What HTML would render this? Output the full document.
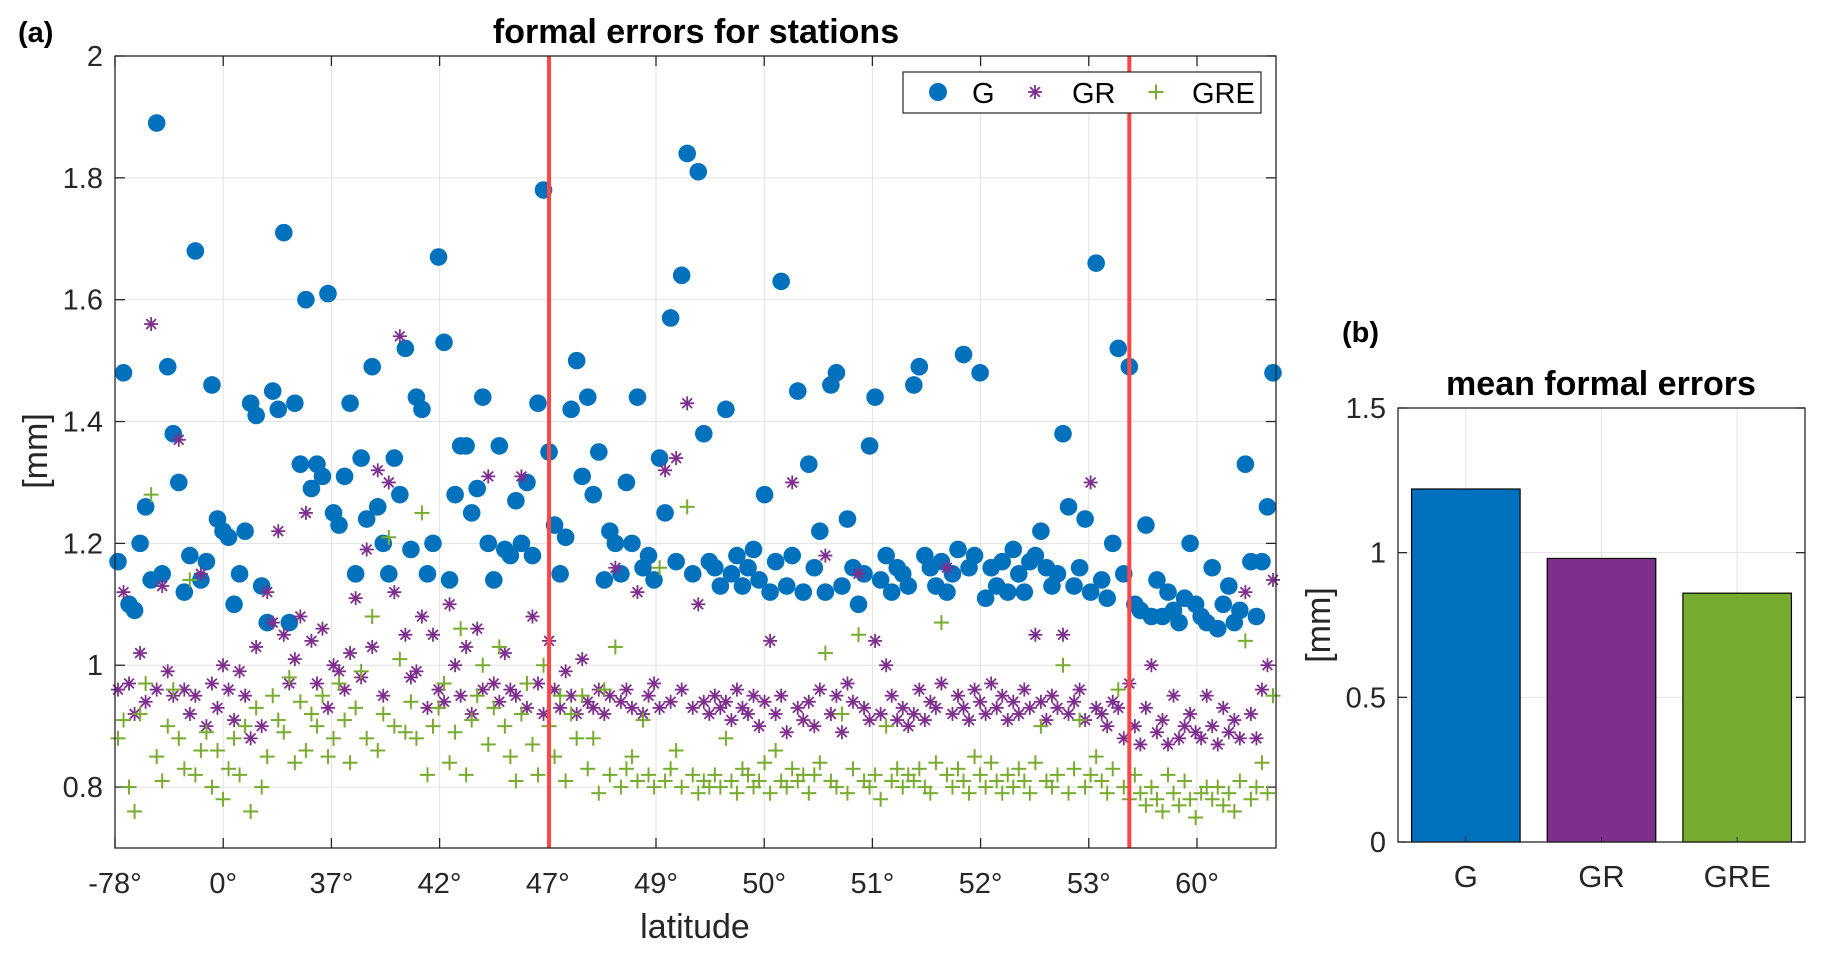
<!DOCTYPE html>
<html><head><meta charset="utf-8"><style>
body{margin:0;background:#fff}
svg{display:block;font-family:"Liberation Sans",Arial,sans-serif}
</style></head><body>
<svg id="svg" width="1824" height="958" viewBox="0 0 1824 958">
<g id="g1"></g>
</svg>
<script>
const xTickLabels=["-78°","0°","37°","42°","47°","49°","50°","51°","52°","53°","60°"];
const yTicks1=[0.8,1,1.2,1.4,1.6,1.8,2];
const seriesG=[1.17,1.48,1.10,1.09,1.20,1.26,1.14,1.89,1.15,1.49,1.38,1.30,1.12,1.18,1.68,1.14,1.17,1.46,
1.24,1.22,1.21,1.10,1.15,1.22,1.43,1.41,1.13,1.07,1.45,1.42,1.71,1.07,1.43,1.33,1.60,1.29,
1.33,1.31,1.61,1.25,1.23,1.31,1.43,1.15,1.34,1.24,1.49,1.26,1.20,1.15,1.34,1.28,1.52,1.19,
1.44,1.42,1.15,1.20,1.67,1.53,1.14,1.28,1.36,1.36,1.25,1.29,1.44,1.20,1.14,1.36,1.19,1.18,
1.27,1.20,1.30,1.18,1.43,1.78,1.35,1.23,1.15,1.21,1.42,1.50,1.31,1.44,1.28,1.35,1.14,1.22,
1.20,1.15,1.30,1.20,1.44,1.16,1.18,1.14,1.34,1.25,1.57,1.17,1.64,1.84,1.15,1.81,1.38,1.17,
1.16,1.13,1.42,1.15,1.18,1.13,1.16,1.19,1.14,1.28,1.12,1.17,1.63,1.13,1.18,1.45,1.12,1.33,
1.16,1.22,1.12,1.46,1.48,1.13,1.24,1.16,1.10,1.15,1.36,1.44,1.14,1.18,1.12,1.16,1.15,1.13,
1.46,1.49,1.18,1.16,1.13,1.17,1.12,1.15,1.19,1.51,1.16,1.18,1.48,1.11,1.16,1.13,1.17,1.12,
1.19,1.15,1.12,1.17,1.18,1.22,1.16,1.13,1.15,1.38,1.26,1.13,1.16,1.24,1.12,1.66,1.14,1.11,
1.20,1.52,1.15,1.49,1.10,1.09,1.23,1.08,1.14,1.08,1.12,1.09,1.07,1.11,1.20,1.10,1.08,1.07,
1.16,1.06,1.10,1.13,1.07,1.09,1.33,1.17,1.08,1.17,1.26,1.48];
const seriesGR=[0.96,1.12,0.97,0.92,1.02,0.94,1.56,0.96,1.13,0.99,0.95,1.37,0.96,0.92,0.95,1.15,0.90,0.97,
0.93,1.00,0.96,0.91,0.99,0.95,0.88,1.03,0.90,1.12,1.07,1.22,1.05,0.97,1.01,1.08,1.25,1.04,
0.97,1.06,0.93,1.00,0.99,0.96,1.02,1.11,0.98,1.19,1.03,1.32,0.95,1.30,1.12,1.54,1.05,0.98,
0.99,1.08,0.93,1.05,0.96,0.94,1.10,1.00,0.95,1.03,0.92,1.06,0.96,1.31,0.97,0.94,1.02,0.96,
0.95,1.31,0.93,1.08,0.97,0.92,1.04,0.96,0.93,0.99,0.95,0.92,1.01,0.94,0.93,0.96,0.92,0.95,
1.16,0.94,0.96,0.93,1.12,0.92,0.95,0.97,0.93,1.32,0.94,1.34,0.96,1.43,0.93,1.10,0.94,0.92,
0.95,0.93,0.94,0.91,0.96,0.93,0.92,0.95,0.90,0.94,1.04,0.92,0.95,0.89,1.30,0.93,0.91,0.94,
0.90,0.96,1.18,0.92,0.95,0.89,0.97,0.94,1.15,0.93,0.91,1.04,0.92,1.00,0.95,0.91,0.93,0.90,
0.92,0.96,0.91,0.94,0.93,0.97,1.16,0.92,0.95,0.93,0.91,0.96,0.94,0.92,0.97,0.93,0.95,0.91,
0.94,0.92,0.96,0.93,1.05,0.94,0.91,0.95,0.93,1.05,0.92,0.94,0.96,0.91,1.30,0.93,0.92,0.90,
0.94,0.93,0.88,0.97,0.90,0.87,0.93,1.00,0.89,0.91,0.87,0.95,0.88,0.90,0.92,0.89,0.88,0.95,
0.90,0.87,0.93,0.89,0.91,0.88,1.12,0.92,0.88,0.96,1.00,1.14];
const seriesGRE=[0.88,0.91,0.80,0.76,0.92,0.97,1.28,0.85,0.81,0.90,0.96,0.88,0.83,1.14,0.82,0.86,0.89,0.80,
0.86,0.78,0.83,0.88,0.82,0.90,0.76,0.93,0.80,0.85,0.95,0.91,0.89,0.98,0.84,0.94,0.86,0.92,
0.90,0.95,0.85,0.88,0.97,0.91,0.84,0.93,0.99,0.88,1.08,0.86,0.92,1.21,0.90,1.01,0.89,0.94,
0.88,1.25,0.82,0.90,0.93,0.97,0.84,0.89,1.06,0.82,0.91,0.95,1.00,0.87,0.93,1.03,0.90,0.85,
0.81,0.92,0.97,0.87,0.82,1.00,0.90,0.85,0.95,0.81,0.92,0.88,0.95,0.83,0.88,0.79,0.96,0.82,
1.03,0.80,0.83,0.85,0.81,0.91,0.82,0.80,1.16,0.81,0.83,0.86,0.80,1.26,0.82,0.79,0.81,0.80,
0.82,0.80,0.88,0.81,0.79,0.83,0.82,0.80,0.81,0.84,0.79,0.86,0.81,0.80,0.83,0.81,0.82,0.79,
0.82,0.84,1.02,0.81,0.80,0.92,0.79,0.83,1.05,0.81,0.80,0.82,0.78,0.90,0.81,0.83,0.80,0.82,
0.81,0.83,0.80,0.79,0.84,1.07,0.82,0.80,0.83,0.81,0.79,0.85,0.82,0.80,0.84,0.81,0.79,0.82,
0.80,0.83,0.81,0.79,0.84,0.90,0.81,0.80,0.82,1.00,0.79,0.83,0.91,0.80,0.82,0.85,0.81,0.79,
0.83,0.96,0.80,0.78,0.82,0.79,0.77,0.80,0.78,0.76,0.82,0.79,0.77,0.81,0.78,0.75,0.79,0.80,
0.78,0.80,0.77,0.79,0.76,0.81,1.04,0.78,0.80,0.84,0.79,0.95];
const redLineIdx=[78,183];
const barCats=["G","GR","GRE"];
const barVals=[1.22,0.98,0.86];
const yTicks2=[0,0.5,1,1.5];

const NS="http://www.w3.org/2000/svg";
const root=document.getElementById('g1');
function mk(tag,attrs,parent){const e=document.createElementNS(NS,tag);for(const k in attrs)e.setAttribute(k,attrs[k]);(parent||root).appendChild(e);return e;}
function txt(s,attrs,parent){const e=mk('text',attrs,parent);e.textContent=s;return e;}

// chart a
const L=115,R=1276,T=56,B=848;
const nPts=seriesG.length;
const xS=i=>L+3+i*(R-L-6)/(nPts-1);
const yS=v=>B-(v-0.7)/(2-0.7)*(B-T);
const xt=k=>L+k*108.2;
const ga=mk('g',{});


xTickLabels.forEach((s,k)=>{const x=xt(k);
 if(k>0){const gl=mk('line',{x1:x,x2:x,y1:T,y2:B,stroke:'#e2e2e2','stroke-width':1},ga);}
 mk('line',{x1:x,x2:x,y1:B,y2:B-10,stroke:'#262626','stroke-width':1.3},ga);
 mk('line',{x1:x,x2:x,y1:T,y2:T+10,stroke:'#262626','stroke-width':1.3},ga);
 const t=txt(s,{x:x,y:B+45,'text-anchor':'middle','font-size':29,fill:'#262626'},ga);
 
});
yTicks1.forEach(v=>{const y=yS(v);
 const gl=mk('line',{x1:L,x2:R,y1:y,y2:y,stroke:'#e2e2e2','stroke-width':1},ga);
 mk('line',{x1:L,x2:L+10,y1:y,y2:y,stroke:'#262626','stroke-width':1.3},ga);
 mk('line',{x1:R,x2:R-10,y1:y,y2:y,stroke:'#262626','stroke-width':1.3},ga);
 const t=txt(String(v),{x:L-12,y:y+10,'text-anchor':'end','font-size':29,fill:'#262626'},ga);
 
});
const gG=mk('g',{fill:'#0072BD'},ga);

seriesG.forEach((v,i)=>{const c=mk('circle',{cx:xS(i),cy:yS(v),r:8.8},gG);});
function star(x,y,p,col){const s=7;const g=mk('g',{stroke:col,'stroke-width':1.8},p);
 mk('line',{x1:x-s,x2:x+s,y1:y,y2:y},g);mk('line',{x1:x,x2:x,y1:y-s,y2:y+s},g);
 mk('line',{x1:x-s*.7,x2:x+s*.7,y1:y-s*.7,y2:y+s*.7},g);mk('line',{x1:x-s*.7,x2:x+s*.7,y1:y+s*.7,y2:y-s*.7},g);return g;}
function plus(x,y,p,col){const s=7.5;const g=mk('g',{stroke:col,'stroke-width':2},p);
 mk('line',{x1:x-s,x2:x+s,y1:y,y2:y},g);mk('line',{x1:x,x2:x,y1:y-s,y2:y+s},g);return g;}
const gGR=mk('g',{},ga);
seriesGR.forEach((v,i)=>{const m=star(xS(i),yS(v),gGR,'#7E2F8E');});
const gGRE=mk('g',{},ga);
seriesGRE.forEach((v,i)=>{const m=plus(xS(i),yS(v),gGRE,'#77AC30');});
redLineIdx.forEach(i=>{const l=mk('line',{x1:xS(i),x2:xS(i),y1:T,y2:B,stroke:'#FF4545','stroke-width':4},ga);});
mk('rect',{x:L,y:T,width:R-L,height:B-T,fill:'none',stroke:'#262626','stroke-width':1.3},ga);
// legend
const lg=mk('g',{},ga);
mk('rect',{x:903,y:72,width:358,height:41,fill:'#fff',stroke:'#262626','stroke-width':1.2},lg);
mk('circle',{cx:938,cy:92,r:9,fill:'#0072BD'},lg);
txt('G',{x:972,y:103,'font-size':29,fill:'#000'},lg);
star(1035,92,lg,'#7E2F8E');
txt('GR',{x:1072,y:103,'font-size':29,fill:'#000'},lg);
plus(1156,92,lg,'#77AC30');
txt('GRE',{x:1192,y:103,'font-size':29,fill:'#000'},lg);
let t;
t=txt('formal errors for stations',{x:696,y:43,'text-anchor':'middle','font-size':34,'font-weight':'bold',fill:'#000'});
t=txt('(a)',{x:18,y:42,'font-size':29,'font-weight':'bold',fill:'#000'});
t=txt('latitude',{x:695,y:938,'text-anchor':'middle','font-size':34,fill:'#262626'});
t=txt('[mm]',{x:0,y:0,'text-anchor':'middle','font-size':34,fill:'#262626',transform:'translate(47,451) rotate(-90)'});

// chart b
const L2=1398,R2=1805,T2=408,B2=842;
const xb=i=>L2+(i+0.5)*(R2-L2)/barCats.length;
const yb=v=>B2-v/1.5*(B2-T2);
const gb=mk('g',{});
yTicks2.forEach(v=>{const y=yb(v);
 if(v>0){const gl=mk('line',{x1:L2,x2:R2,y1:y,y2:y,stroke:'#e2e2e2','stroke-width':1},gb);}
 mk('line',{x1:L2,x2:L2+9,y1:y,y2:y,stroke:'#262626','stroke-width':1.3},gb);
 mk('line',{x1:R2,x2:R2-9,y1:y,y2:y,stroke:'#262626','stroke-width':1.3},gb);
 const tt=txt(String(v),{x:L2-12,y:y+10,'text-anchor':'end','font-size':29,fill:'#262626'},gb);
});
barCats.forEach((c,i)=>{const x=xb(i);const gl=mk('line',{x1:x,x2:x,y1:T2,y2:B2,stroke:'#e2e2e2','stroke-width':1},gb);});
const cols=['#0072BD','#7E2F8E','#77AC30'];
barVals.forEach((v,i)=>{const w=0.8*(R2-L2)/barCats.length;
 const r=mk('rect',{x:xb(i)-w/2,y:yb(v),width:w,height:B2-yb(v),fill:cols[i],stroke:'#000','stroke-width':1.2},gb);
 
 mk('line',{x1:xb(i),x2:xb(i),y1:B2,y2:B2-5,stroke:'#262626'},gb);
 const tt=txt(barCats[i],{x:xb(i),y:B2+45,'text-anchor':'middle','font-size':31,fill:'#262626'},gb);
});
mk('rect',{x:L2,y:T2,width:R2-L2,height:B2-T2,fill:'none',stroke:'#262626','stroke-width':1.3},gb);
t=txt('mean formal errors',{x:1601,y:395,'text-anchor':'middle','font-size':34,'font-weight':'bold',fill:'#000'});
t=txt('(b)',{x:1342,y:342,'font-size':29,'font-weight':'bold',fill:'#000'});
t=txt('[mm]',{x:0,y:0,'text-anchor':'middle','font-size':34,fill:'#262626',transform:'translate(1330,625) rotate(-90)'});
</script>
</body></html>
